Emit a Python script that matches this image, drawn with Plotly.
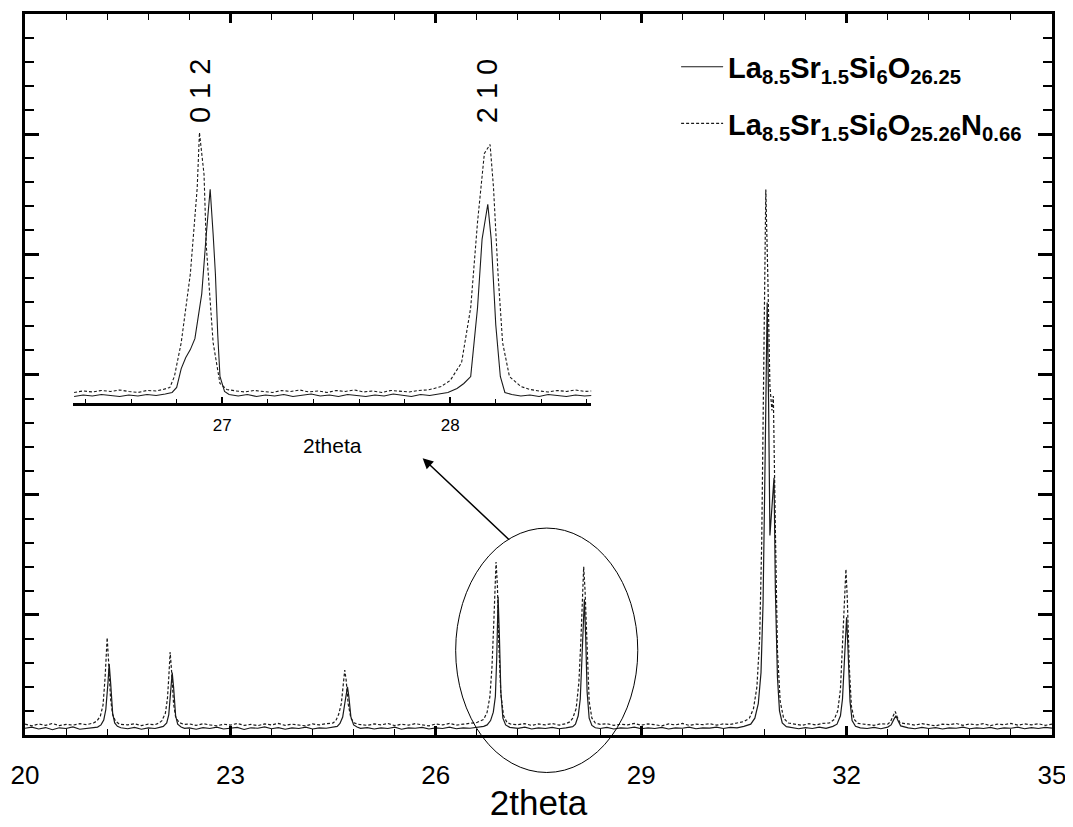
import plotly.graph_objects as go

# ---------------- main pattern: La8.5Sr1.5Si6O26.25 (solid) ----------------
solid_x = [20.0, 20.1, 20.2, 20.3, 20.4, 20.5, 20.6, 20.7, 20.8, 20.9, 21.0,
           21.06, 21.11, 21.15, 21.18, 21.21, 21.23, 21.25, 21.28, 21.31, 21.35, 21.4,
           21.5, 21.6, 21.7, 21.8, 21.9, 21.98,
           22.02, 22.07, 22.1, 22.13, 22.15, 22.17, 22.2, 22.23, 22.28, 22.33,
           22.4, 22.5, 22.6, 22.7, 22.8, 22.9, 23.0, 23.1, 23.2, 23.3, 23.4, 23.5, 23.6,
           23.7, 23.8, 23.9, 24.0, 24.1, 24.2, 24.3, 24.4, 24.5,
           24.56, 24.6, 24.64, 24.67, 24.7, 24.71, 24.73, 24.76, 24.8, 24.85, 24.9,
           25.0, 25.1, 25.2, 25.3, 25.4, 25.5, 25.6, 25.7, 25.8, 25.9, 26.0, 26.1, 26.2,
           26.3, 26.4, 26.5, 26.6, 26.7,
           26.75, 26.8, 26.84, 26.87, 26.89, 26.91, 26.93, 26.95, 26.98, 27.02, 27.08,
           27.2, 27.3, 27.4, 27.5, 27.6, 27.7, 27.8, 27.9, 28.0,
           28.04, 28.08, 28.11, 28.14, 28.17, 28.19, 28.21, 28.24, 28.28, 28.33,
           28.4, 28.5, 28.6, 28.7, 28.8, 28.9, 29.0, 29.1, 29.2, 29.3, 29.4, 29.5, 29.6,
           29.7, 29.8, 29.9, 30.0, 30.1, 30.2, 30.3, 30.4, 30.5,
           30.6, 30.66, 30.71, 30.75, 30.78, 30.81, 30.84, 30.86, 30.88, 30.91, 30.94,
           30.96, 30.99, 31.02, 31.06, 31.12,
           31.2, 31.3, 31.4, 31.5, 31.6, 31.7, 31.8,
           31.86, 31.91, 31.94, 31.97, 32.0, 32.02, 32.05, 32.08, 32.13, 32.2,
           32.3, 32.4, 32.5, 32.6,
           32.65, 32.69, 32.72, 32.75, 32.79,
           32.9, 33.0, 33.1, 33.2, 33.3, 33.4, 33.5, 33.6, 33.7, 33.8, 33.9, 34.0, 34.1,
           34.2, 34.3, 34.4, 34.5, 34.6, 34.7, 34.8, 34.9, 35.0]
solid_y = [0.28, 0.33, 0.25, 0.31, 0.22, 0.30, 0.27, 0.34, 0.24, 0.29, 0.31,
           0.33, 0.42, 0.62, 1.05, 2.1, 2.95, 2.2, 0.9, 0.5, 0.36, 0.30,
           0.26, 0.32, 0.24, 0.30, 0.27, 0.33,
           0.36, 0.50, 0.85, 1.9, 2.6, 2.0, 0.8, 0.45, 0.33, 0.28,
           0.30, 0.24, 0.31, 0.27, 0.33, 0.25, 0.29, 0.32, 0.23, 0.30, 0.28, 0.34, 0.26,
           0.31, 0.24, 0.30, 0.27, 0.33, 0.25, 0.30, 0.28, 0.33,
           0.36, 0.48, 0.75, 1.3, 1.95, 2.0, 1.6, 0.75, 0.42, 0.33, 0.28,
           0.31, 0.25, 0.30, 0.27, 0.33, 0.24, 0.30, 0.28, 0.32, 0.25, 0.30, 0.27, 0.33,
           0.26, 0.30, 0.28, 0.32, 0.36,
           0.42, 0.60, 0.95, 1.6, 3.2, 5.75, 4.0, 1.8, 0.70, 0.42, 0.32,
           0.28, 0.33, 0.25, 0.30, 0.27, 0.32, 0.26, 0.30, 0.35,
           0.45, 0.80, 1.5, 3.3, 5.65, 4.0, 1.8, 0.70, 0.40, 0.30,
           0.27, 0.32, 0.25, 0.30, 0.28, 0.33, 0.26, 0.30, 0.27, 0.32, 0.25, 0.30, 0.28,
           0.33, 0.26, 0.30, 0.29, 0.33, 0.27, 0.32, 0.30, 0.36,
           0.45, 0.70, 1.3, 2.6, 5.5, 11.5, 18.0, 14.0, 8.3, 9.5, 10.7,
           6.0, 2.4, 1.0, 0.50, 0.35,
           0.30, 0.26, 0.31, 0.27, 0.33, 0.28, 0.36,
           0.45, 0.80, 1.5, 3.2, 4.9, 3.6, 1.4, 0.60, 0.36, 0.30,
           0.27, 0.32, 0.26, 0.33,
           0.42, 0.65, 0.80, 0.60, 0.38,
           0.30, 0.26, 0.32, 0.27, 0.31, 0.25, 0.30, 0.28, 0.33, 0.26, 0.30, 0.27, 0.32,
           0.25, 0.30, 0.28, 0.33, 0.26, 0.31, 0.27, 0.32, 0.29]

# ---------------- main pattern: La8.5Sr1.5Si6O25.26N0.66 (dotted) ----------------
dotted_x = [20.0, 20.1, 20.2, 20.3, 20.4, 20.5, 20.6, 20.7, 20.8, 20.9, 21.0,
            21.05, 21.1, 21.14, 21.17, 21.2, 21.22, 21.25, 21.28, 21.32, 21.38,
            21.5, 21.6, 21.7, 21.8, 21.9, 21.96,
            22.0, 22.05, 22.08, 22.1, 22.12, 22.14, 22.17, 22.2, 22.25, 22.32,
            22.4, 22.5, 22.6, 22.7, 22.8, 22.9, 23.0, 23.1, 23.2, 23.3, 23.4, 23.5, 23.6,
            23.7, 23.8, 23.9, 24.0, 24.1, 24.2, 24.3, 24.4, 24.5,
            24.54, 24.58, 24.62, 24.65, 24.67, 24.69, 24.72, 24.76, 24.81, 24.88,
            25.0, 25.1, 25.2, 25.3, 25.4, 25.5, 25.6, 25.7, 25.8, 25.9, 26.0, 26.1, 26.2,
            26.3, 26.4, 26.5, 26.6,
            26.7, 26.75, 26.79, 26.82, 26.85, 26.88, 26.9, 26.92, 26.95, 26.99, 27.04, 27.1,
            27.2, 27.3, 27.4, 27.5, 27.6, 27.7, 27.8, 27.9, 27.96,
            28.0, 28.05, 28.09, 28.12, 28.14, 28.16, 28.18, 28.21, 28.24, 28.28, 28.33, 28.4,
            28.5, 28.6, 28.7, 28.8, 28.9, 29.0, 29.1, 29.2, 29.3, 29.4, 29.5, 29.6, 29.7,
            29.8, 29.9, 30.0, 30.1, 30.2, 30.3, 30.4, 30.5,
            30.58, 30.64, 30.69, 30.73, 30.76, 30.79, 30.82, 30.85, 30.88, 30.91, 30.93,
            30.96, 30.99, 31.03, 31.08, 31.15,
            31.25, 31.35, 31.45, 31.55, 31.65, 31.75,
            31.82, 31.87, 31.91, 31.94, 31.97, 31.99, 32.01, 32.04, 32.07, 32.11, 32.17,
            32.3, 32.4, 32.5, 32.6,
            32.64, 32.68, 32.71, 32.74, 32.78,
            32.9, 33.0, 33.1, 33.2, 33.3, 33.4, 33.5, 33.6, 33.7, 33.8, 33.9, 34.0, 34.1,
            34.2, 34.3, 34.4, 34.5, 34.6, 34.7, 34.8, 34.9, 35.0]
dotted_y = [0.45, 0.38, 0.46, 0.40, 0.48, 0.39, 0.44, 0.41, 0.47, 0.43, 0.50,
            0.58, 0.78, 1.25, 2.4, 4.05, 3.1, 1.5, 0.85, 0.58, 0.45,
            0.42, 0.47, 0.39, 0.45, 0.43, 0.50,
            0.60, 0.90, 1.5, 2.4, 3.45, 2.7, 1.3, 0.75, 0.52, 0.44,
            0.46, 0.40, 0.47, 0.42, 0.38, 0.45, 0.41, 0.48, 0.40, 0.44, 0.39, 0.46, 0.42,
            0.48, 0.40, 0.45, 0.43, 0.38, 0.46, 0.42, 0.47, 0.50,
            0.60, 0.85, 1.3, 2.1, 2.7, 2.3, 1.3, 0.70, 0.50, 0.44,
            0.40, 0.46, 0.42, 0.48, 0.39, 0.45, 0.41, 0.47, 0.43, 0.38, 0.46, 0.42, 0.48,
            0.41, 0.45, 0.47, 0.52,
            0.65, 0.95, 1.6, 2.8, 4.9, 7.2, 6.2, 3.8, 1.7, 0.80, 0.52, 0.45,
            0.43, 0.47, 0.40, 0.46, 0.42, 0.48, 0.41, 0.47, 0.55,
            0.70, 1.1, 2.2, 4.0, 5.8, 7.0, 6.0, 3.2, 1.4, 0.70, 0.50, 0.44,
            0.47, 0.40, 0.45, 0.42, 0.48, 0.41, 0.46, 0.43, 0.38, 0.46, 0.42, 0.48, 0.40,
            0.45, 0.43, 0.47, 0.41, 0.46, 0.44, 0.50, 0.56,
            0.70, 1.1, 2.0, 4.0, 8.0, 15.0, 22.7, 19.0, 14.5, 13.5, 14.1,
            8.5, 3.5, 1.4, 0.70, 0.50,
            0.44, 0.40, 0.47, 0.42, 0.48, 0.50,
            0.65, 1.0, 1.9, 3.6, 5.6, 6.9, 5.7, 2.8, 1.2, 0.65, 0.48,
            0.44, 0.40, 0.47, 0.45,
            0.55, 0.78, 0.98, 0.75, 0.50,
            0.46, 0.41, 0.47, 0.42, 0.38, 0.45, 0.43, 0.48, 0.40, 0.46, 0.42, 0.47, 0.39,
            0.45, 0.43, 0.48, 0.41, 0.46, 0.42, 0.47, 0.40, 0.45]

# ---------------- inset (zoom on 012 / 210 reflections) ----------------
inset_solid_x = [26.35, 26.39, 26.43, 26.47, 26.51, 26.55, 26.59, 26.63, 26.67, 26.71,
                 26.75, 26.78, 26.80, 26.82, 26.84, 26.86, 26.88, 26.91, 26.93, 26.947,
                 26.96, 26.97, 26.98, 26.99, 27.01, 27.03, 27.07, 27.11, 27.15, 27.19,
                 27.23, 27.27, 27.31, 27.35, 27.39, 27.43, 27.47, 27.51, 27.55, 27.59,
                 27.63, 27.67, 27.71, 27.75, 27.79, 27.83, 27.87, 27.91, 27.95, 27.99,
                 28.03, 28.06, 28.09, 28.12, 28.14, 28.165, 28.18, 28.20, 28.22, 28.24,
                 28.27, 28.31, 28.35, 28.39, 28.43, 28.47, 28.51, 28.55, 28.59, 28.62]
inset_solid_y = [0.7, 0.85, 0.75, 0.9, 0.8, 0.7, 0.85, 0.75, 0.9, 0.8,
                 0.95, 1.1, 1.6, 3.5, 4.6, 5.4, 6.5, 11.0, 17.0, 21.5,
                 17.0, 13.0, 7.0, 2.7, 1.2, 0.9, 0.75, 0.9, 0.7, 0.85,
                 0.75, 0.9, 0.7, 0.8, 0.95, 0.75, 0.85, 0.7, 0.9, 0.8,
                 0.7, 0.85, 0.75, 0.95, 0.8, 0.7, 0.9, 0.8, 0.95, 1.1,
                 1.5, 2.0, 2.7, 9.6, 16.5, 20.0, 16.5, 7.9, 2.7, 1.1,
                 0.9, 0.75, 0.85, 0.7, 0.9, 0.8, 0.7, 0.85, 0.75, 0.8]

inset_dotted_x = [26.35, 26.39, 26.43, 26.47, 26.51, 26.55, 26.59, 26.63, 26.67, 26.71,
                  26.74, 26.77, 26.79, 26.82, 26.86, 26.89, 26.90, 26.92, 26.93, 26.96,
                  26.99, 27.02, 27.06, 27.10, 27.14, 27.18, 27.22, 27.26, 27.30, 27.34,
                  27.38, 27.42, 27.46, 27.50, 27.54, 27.58, 27.62, 27.66, 27.70, 27.74,
                  27.78, 27.82, 27.86, 27.90, 27.93, 27.96, 28.00, 28.05, 28.09, 28.12,
                  28.15, 28.175, 28.19, 28.21, 28.23, 28.26, 28.31, 28.35, 28.39, 28.43,
                  28.47, 28.51, 28.55, 28.59, 28.62]
inset_dotted_y = [1.1, 1.25, 1.15, 1.3, 1.2, 1.35, 1.2, 1.1, 1.3, 1.25,
                  1.4, 1.6, 2.7, 6.1, 13.0, 21.6, 27.2, 23.0, 15.8, 6.1,
                  2.0, 1.4, 1.25, 1.15, 1.3, 1.2, 1.1, 1.3, 1.2, 1.35,
                  1.15, 1.25, 1.1, 1.3, 1.2, 1.35, 1.15, 1.25, 1.1, 1.3,
                  1.2, 1.15, 1.3, 1.35, 1.5, 1.7, 2.3, 4.1, 9.6, 18.2,
                  25.1, 26.0, 21.7, 13.0, 6.1, 2.7, 1.7, 1.4, 1.25, 1.15,
                  1.3, 1.2, 1.35, 1.2, 1.25]

x_tick_vals = [20, 23, 26, 29, 32, 35]
x_tick_text = ["20", "23", "26", "29", "32", "35"]
inset_tick_vals = [27, 28]
inset_tick_text = ["27", "28"]

label_solid = "<b>La<sub>8.5</sub>Sr<sub>1.5</sub>Si<sub>6</sub>O<sub>26.25</sub></b>"
label_dotted = "<b>La<sub>8.5</sub>Sr<sub>1.5</sub>Si<sub>6</sub>O<sub>25.26</sub>N<sub>0.66</sub></b>"

FONT = "Liberation Sans, Arial, sans-serif"

fig = go.Figure()
fig.add_trace(go.Scatter(x=solid_x, y=solid_y, mode="lines", name=label_solid,
                         legendgroup="a",
                         line=dict(color="#1a1a1a", width=1.2), xaxis="x", yaxis="y"))
fig.add_trace(go.Scatter(x=dotted_x, y=dotted_y, mode="lines", name=label_dotted,
                         legendgroup="b",
                         line=dict(color="#1a1a1a", width=1.2, dash="3px,2px"),
                         xaxis="x", yaxis="y"))
fig.add_trace(go.Scatter(x=inset_solid_x, y=inset_solid_y, mode="lines", showlegend=False,
                         line=dict(color="#1a1a1a", width=1.1), xaxis="x2", yaxis="y2"))
fig.add_trace(go.Scatter(x=inset_dotted_x, y=inset_dotted_y, mode="lines", showlegend=False,
                         line=dict(color="#1a1a1a", width=1.1, dash="3px,2px"),
                         xaxis="x2", yaxis="y2"))

fig.update_layout(
    width=1073, height=827,
    margin=dict(l=16, r=29, t=3, b=100),
    paper_bgcolor="white", plot_bgcolor="white",
    font=dict(family=FONT, color="black"),
    xaxis=dict(range=[20, 35], tickmode="array", tickvals=x_tick_vals, ticktext=x_tick_text,
               ticks="inside", ticklen=9, tickwidth=3, tickcolor="black",
               minor=dict(dtick=0.6, tick0=20, ticks="inside", ticklen=6, tickwidth=1,
                          tickcolor="black"),
               showline=True, linewidth=3, linecolor="black", mirror="ticks",
               showgrid=False, zeroline=False, ticklabelstandoff=15,
               tickfont=dict(size=26, family=FONT),
               title=dict(text="2theta", font=dict(size=35, family=FONT), standoff=2)),
    yaxis=dict(range=[0, 30], tick0=0, dtick=5, ticks="inside", ticklen=14, tickwidth=3,
               tickcolor="black",
               minor=dict(dtick=1, ticks="inside", ticklen=9, tickwidth=1.5, tickcolor="black"),
               showline=True, linewidth=3, linecolor="black", mirror="ticks",
               showgrid=False, zeroline=False, showticklabels=False),
    xaxis2=dict(domain=[0.0467, 0.5516], anchor="y2", range=[26.345, 28.62],
                tickmode="array", tickvals=inset_tick_vals, ticktext=inset_tick_text,
                ticks="inside", ticklen=7, tickwidth=2, tickcolor="black",
                minor=dict(dtick=0.2, tick0=26.4, ticks="inside", ticklen=5, tickwidth=1,
                           tickcolor="black"),
                showline=True, linewidth=2.5, linecolor="black",
                showgrid=False, zeroline=False, ticklabelstandoff=4,
                tickfont=dict(size=17, family=FONT),
                title=dict(text="2theta", font=dict(size=21, family=FONT), standoff=5)),
    yaxis2=dict(domain=[0.4599, 0.8743], anchor="x2", range=[0, 30], visible=False),
    legend=dict(x=0.634, y=0.962, xanchor="left", yanchor="top",
                bgcolor="rgba(0,0,0,0)", borderwidth=0,
                font=dict(size=29, family=FONT, color="black"),
                itemwidth=42, tracegroupgap=16),
    showlegend=True,
)

fig.add_annotation(text="0 1 2", x=26.90, xref="x2", y=0.8937, yref="paper",
                   textangle=-90, showarrow=False, xanchor="center", yanchor="middle",
                   font=dict(size=29, family=FONT, color="black"))
fig.add_annotation(text="2 1 0", x=28.16, xref="x2", y=0.8937, yref="paper",
                   textangle=-90, showarrow=False, xanchor="center", yanchor="middle",
                   font=dict(size=29, family=FONT, color="black"))

# arrow pointing from the circled peaks to the inset
fig.add_annotation(x=0.3872, y=0.384, xref="paper", yref="paper", text="",
                   showarrow=True, ax=88, ay=83, arrowhead=2, arrowsize=1.4,
                   arrowwidth=1.5, arrowcolor="black")

# ellipse around the 012 / 210 peaks
fig.add_shape(type="circle", xref="x", yref="paper", x0=26.29, x1=28.95,
              y0=-0.052, y1=0.287, line=dict(color="black", width=1))

fig.write_html("out.html")
